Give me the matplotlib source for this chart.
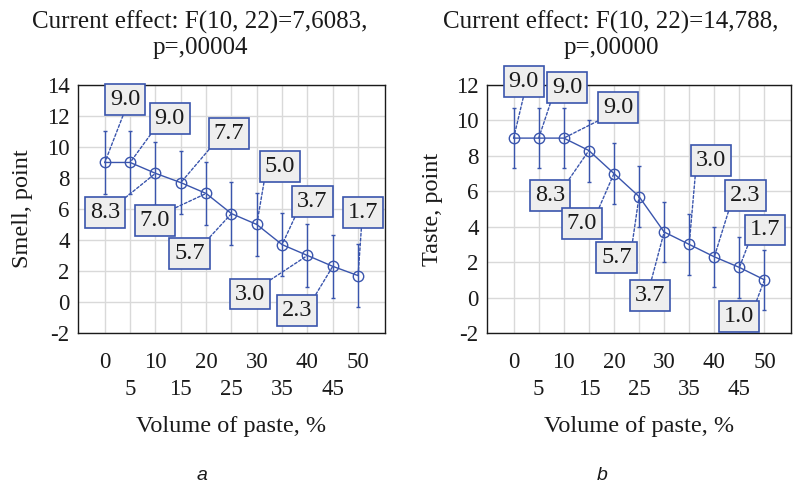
import numpy as np
import matplotlib
matplotlib.use("Agg")
import matplotlib.pyplot as plt

plt.rcParams['font.family'] = ['Liberation Serif', 'DejaVu Serif']
plt.rcParams['axes.unicode_minus'] = False

# === data ===
volume = [0, 5, 10, 15, 20, 25, 30, 35, 40, 45, 50]

smell_mean = [9.0, 9.0, 8.3, 7.7, 7.0, 5.7, 5.0, 3.7, 3.0, 2.3, 1.7]
smell_err = [2.05, 2.05, 2.05, 2.05, 2.05, 2.05, 2.05, 2.05, 2.05, 2.05, 2.05]
taste_mean = [9.0, 9.0, 9.0, 8.3, 7.0, 5.7, 3.7, 3.0, 2.3, 1.7, 1.0]
taste_err = [1.7, 1.7, 1.7, 1.75, 1.7, 1.7, 1.7, 1.7, 1.7, 1.7, 1.7]

smell_title = "Current effect: F(10, 22)=7,6083,\np=,00004"
taste_title = "Current effect: F(10, 22)=14,788,\np=,00000"

# label box placement (data coords) and where the leader leaves the box
smell_lbl_pos = [(4.0, 13.05), (12.8, 11.83), (0, 5.77), (24.5, 10.86), (9.9, 5.24),
                 (16.7, 3.15), (34.6, 8.74), (41.0, 6.48), (28.6, 0.51), (38.0, -0.54), (50.9, 5.77)]
smell_lbl_rel = [(0.5, 0), (0, 0), (1, 1), (0, 0), (1, 1), (1, 1), (0, 0), (0, 0), (1, 1), (1, 1), (0.47, 0)]

taste_lbl_pos = [(2.0, 12.19), (10.7, 11.87), (20.9, 10.72), (7.3, 5.78), (13.55, 4.18),
                 (20.5, 2.28), (27.2, 0.12), (39.3, 7.75), (46.2, 5.76), (50.1, 3.82), (45.0, -1.08)]
taste_lbl_rel = [(0.53, 0), (0, 0), (0, 0), (1, 1), (1, 1), (1, 1), (0.5, 1), (0, 0), (0, 0), (0, 0), (1, 1)]

blue = '#3a55ad'
box_fc = '#eeeeee'
ink = '#1a1a1a'

fig = plt.figure(figsize=(7.94, 4.83), dpi=100)
ax1 = fig.add_axes([0.0982, 0.3106, 0.3866, 0.5135])
ax2 = fig.add_axes([0.6134, 0.3106, 0.3829, 0.5135])


def draw_panel(ax, mean, err, title, title_x, ylabel, ylim, lbl_pos, lbl_rel, letter):
    ax.errorbar(volume, mean, yerr=err, color=blue, lw=1.0, elinewidth=1.0,
                capsize=1.5, capthick=1.0, marker='o', ms=7.5, mfc='none',
                mec=blue, mew=1.0, zorder=3)
    for x, y, (tx, ty), rel in zip(volume, mean, lbl_pos, lbl_rel):
        ax.annotate(f"{y:.1f}", xy=(x, y), xytext=(tx, ty), textcoords='data',
                    ha='center', va='center', fontsize=17.5, color=ink,
                    bbox=dict(boxstyle='square,pad=0.2', fc=box_fc, ec=blue, lw=1.2),
                    arrowprops=dict(arrowstyle='-', color=blue, lw=1.0, ls=(0, (2, 1.5)),
                                    relpos=rel, shrinkA=0, shrinkB=0),
                    zorder=5, annotation_clip=False)
    ax.set_xlim(-5.3, 55.3)
    ax.set_ylim(*ylim)
    ax.set_xticks(range(0, 51, 10))
    ax.set_xticks(range(5, 50, 10), minor=True)
    ax.set_xticklabels([str(v) for v in range(0, 51, 10)])
    ax.set_xticklabels([str(v) for v in range(5, 50, 10)], minor=True)
    ax.set_yticks(np.arange(ylim[0], ylim[1] + 1, 2))
    ax.tick_params(axis='x', which='major', length=0, pad=14, labelsize=16.5, colors=ink)
    ax.tick_params(axis='x', which='minor', length=0, pad=33, labelsize=16.5, colors=ink)
    ax.tick_params(axis='y', length=0, pad=6, labelsize=16.5, colors=ink)
    ax.grid(True, which='both', axis='x', color='#d9d9d9', lw=1.0)
    ax.grid(True, which='major', axis='y', color='#d9d9d9', lw=1.0)
    ax.set_axisbelow(True)
    for s in ax.spines.values():
        s.set_color(ink)
        s.set_linewidth(1.0)
    # title sits left of the axes centre in the original
    fig.text(title_x, 1 - 35 / 483, title, ha='center', va='center', fontsize=18,
             color=ink, linespacing=1.2)
    ax.set_xlabel("Volume of paste, %", fontsize=17.5, color=ink)
    ax.xaxis.set_label_coords(0.5, -0.379)
    ax.xaxis.label.set_va('center')
    ax.set_ylabel(ylabel, fontsize=17.5, color=ink)
    ax.yaxis.set_label_coords(-0.18, 0.5)
    ax.yaxis.label.set_va('center')
    ax.text(letter[1], 0.015, letter[0], transform=fig.transFigure, ha='center', va='center',
            fontsize=14, style='italic', family='Liberation Sans', color=ink)


draw_panel(ax1, smell_mean, smell_err, smell_title, 200 / 794, "Smell, point", (-2, 14),
           smell_lbl_pos, smell_lbl_rel, ('a', 202 / 794))
draw_panel(ax2, taste_mean, taste_err, taste_title, 611 / 794, "Taste, point", (-2, 12),
           taste_lbl_pos, taste_lbl_rel, ('b', 602 / 794))

fig.savefig("out.png", dpi=100)
